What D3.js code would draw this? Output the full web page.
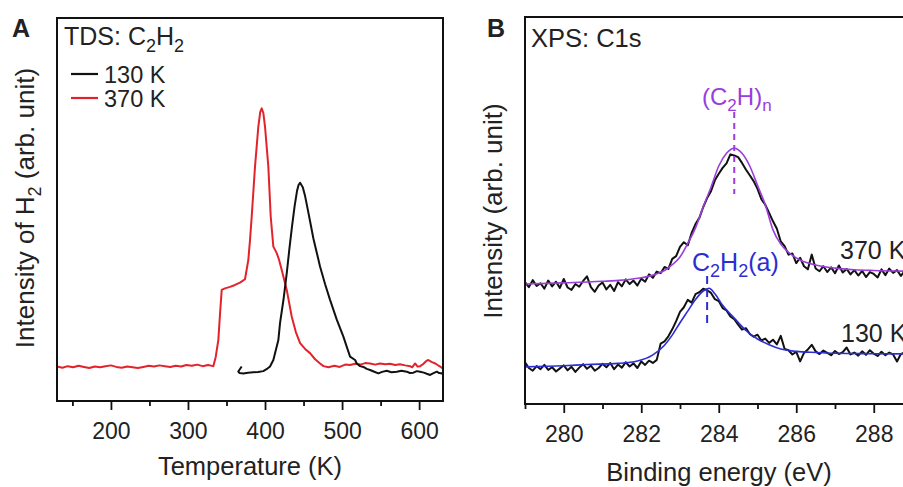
<!DOCTYPE html>
<html>
<head>
<meta charset="utf-8">
<script src="https://cdn.jsdelivr.net/npm/d3@7"></script>
<style>
  body { margin: 0; background: #fff; }
  svg { display: block; }
  text { font-family: "Liberation Sans", Arial, sans-serif; fill: #222; }
</style>
</head>
<body>
<div id="chart"></div>
<script>
/* ---- data ---- */

// panel A: TDS of H2, temperature (K) vs intensity (arb.)
var tdsTicks = [200, 300, 400, 500, 600];
var tdsMinor = [150, 250, 350, 450, 550];

var tds370 = [[130,9.0],[137,8.7],[144,9.1],[151,8.8],[158,9.2],[165,8.9],[172,8.6],[179,9.0],[186,8.8],[193,9.1],
  [200,9.3],[207,8.9],[214,8.7],[221,9.0],[228,8.8],[235,8.6],[242,8.9],[249,9.2],[256,9.0],[263,9.3],[270,9.1],
  [277,8.9],[284,9.2],[291,9.0],[298,9.4],[305,9.2],[312,9.5],[319,9.1],[326,9.4],[332.9,9.1],[336,11.5],
  [339.4,15.9],[341.5,22.5],[343.8,29],[348,29.4],[354.5,29.8],[361,30.3],[367.5,30.9],[374,31.8],[378.3,36.8],
  [380.5,42],[382.7,48.1],[387,61.2],[391.3,71.6],[393.8,75.5],[395.7,76.4],[397.8,75.2],[400,71.6],[404.3,61.2],
  [407.4,48.1],[410.8,40.3],[415.2,38.6],[418,37.0],[421.7,34.2],[428.2,29],[434.7,22],[440,18],[445.5,15.1],
  [452,13.6],[458.4,12.5],[465,10.9],[471.4,9.8],[476,9.1],[482.2,8.8],[490,9.2],[497,8.9],[504,9.5],[510.4,9.4],
  [517,9.7],[524,9.5],[530,9.9],[536.4,9.8],[543,9.5],[549,9.8],[556,9.6],[562.3,9.7],[569,9.4],[575,9.6],
  [582,9.3],[588.3,9.1],[591,8.8],[594.8,9.8],[598,9.0],[601.3,9.1],[605,9.6],[609,10.4],[612,10.7],[616,10.2],
  [620.8,9.8],[624,9.4],[627.3,9.0],[631,8.4]];

var tds130 = [[369.7,9.0],[365.3,7.7],[367,7.3],[371.8,7.2],[378,7.4],[384.8,7.5],[391,7.6],[397.8,7.8],[402,8.3],
  [406.5,9.0],[410.8,10.7],[415.2,14.2],[417.3,15.9],[419.5,20.4],[424,26.5],[428.2,33.4],[431.5,39.5],[435,45.5],
  [438.5,51],[441.5,54.8],[443.5,56.4],[445.5,57.0],[449,55.8],[452,53.5],[455,50.5],[458.4,47],[462.7,42.5],
  [467.1,38.8],[471.4,35.1],[478,30.5],[484.4,26.4],[493,21.3],[501.7,16.8],[506,14.2],[510.4,11.6],[516.9,10.7],
  [519.1,9.8],[523.4,9.1],[527.7,8.9],[532,8.4],[536.4,8.1],[541,7.7],[547.1,7.2],[552,7.6],[558,7.9],[564,7.5],
  [571,7.65],[577,7.9],[584,7.65],[588,7.3],[592.6,7.4],[597,7.8],[601.3,7.65],[606,7.4],[610,7.1],[614.3,6.8],
  [618,7.2],[623,7.65],[626,7.3],[629.5,7.2],[631,7.5]];

// panel B: XPS C1s, binding energy (eV) vs intensity (arb.)
var xpsTicks = [280, 282, 284, 286, 288];
var xpsMinor = [279, 281, 283, 285, 287, 289];
var xpsEnergy = d3.range(99).map(i => +(279 + i * 0.1).toFixed(1)); // 279.0 ... 288.8

var raw370 = [31.5,30.2,32.0,30.5,31.2,29.8,31.9,30.4,31.6,30.0,
  32.3,30.1,29.5,31.0,30.3,31.8,33.0,30.2,29.0,30.6,
  31.4,29.6,30.8,29.2,31.5,30.4,32.2,31.0,31.9,30.6,
  32.4,31.6,33.5,32.6,34.2,33.8,35.4,34.9,37.5,38.2,
  40.6,41.8,41.0,44.2,46.5,48.1,50.9,53.2,55.0,57.8,
  59.5,61.0,62.2,64.5,64.2,63.8,62.3,60.6,59.1,57.6,
  55.6,52.9,51.5,49.4,47.2,45.3,42.0,40.8,38.6,38.9,
  36.4,37.8,35.6,34.8,38.6,35.0,34.3,35.6,34.1,35.3,
  33.8,35.8,34.0,34.9,33.5,34.6,33.2,34.4,32.8,34.1,
  33.6,32.7,34.8,33.3,35.0,33.9,34.6,33.1,34.4];

var raw130 = [10.8,9.3,8.6,9.8,9.0,10.1,8.8,9.5,8.4,9.2,
  10.0,8.7,9.6,8.3,9.4,10.3,9.1,9.9,8.6,9.3,
  10.4,9.5,10.6,9.0,10.2,9.4,10.8,9.7,10.5,9.3,
  11.0,10.1,11.2,10.6,11.4,15.6,16.2,17.5,19.3,21.4,
  23.8,25.0,26.9,26.2,28.4,28.9,29.8,29.4,28.7,27.1,
  26.6,24.8,24.2,22.6,21.9,20.5,19.2,19.6,18.1,17.4,
  17.9,16.4,16.9,15.8,16.6,15.4,17.6,14.2,13.9,12.8,
  13.5,11.0,13.2,14.1,15.3,13.6,12.9,13.8,13.2,12.6,
  13.7,12.9,13.4,14.6,12.8,13.3,12.5,13.6,12.7,13.9,
  13.0,12.4,13.5,12.6,13.3,12.8,11.0,12.9,13.4];

var fit370 = [[279.0,31.0],[280.0,31.3],[281.0,31.7],[281.5,32.0],[282.0,32.6],[282.3,33.3],[282.6,34.5],[282.8,36],
  [283.0,38],[283.2,41.5],[283.4,45.5],[283.6,51],[283.8,56],[284.0,61.5],[284.2,64.8],[284.4,66.1],[284.6,64.8],
  [284.8,61.5],[285.0,56.5],[285.2,51.5],[285.4,45],[285.6,41.3],[285.8,39.2],[286.1,37.2],[286.5,35.9],[287.0,35.1],
  [287.5,34.7],[288.0,34.5],[289.0,34.3],[290.0,34.2]];

var fit130 = [[279.0,9.6],[280.0,9.9],[280.6,10.2],[281.4,10.5],[281.9,11.1],[282.3,12.7],[282.6,15.2],[282.8,17.8],
  [283.0,21],[283.2,24],[283.4,27],[283.6,29.2],[283.75,29.9],[283.9,28.5],[284.1,25.5],[284.4,22.2],[284.7,19],
  [285.0,16.8],[285.3,15.3],[285.6,14.2],[286.0,13.6],[286.5,13.3],[287.0,13.1],[288.0,13.0],[290.0,12.9]];

var peakC2Hn = 284.4;
var peakC2H2 = 283.7;

/* ---- layout ---- */
var W = 903, H = 487;
var RED = "#e3232b", PURPLE = "#9b3ddc", BLUE = "#2b2ed2";

var svg = d3.select("#chart").append("svg").attr("width", W).attr("height", H);
var defs = svg.append("defs");

// text with subscripts: parts = [[str, sub?], ...]
function richText(sel, parts, subSize, shift) {
  var cur = 0;
  parts.forEach(p => {
    var want = p[1] ? shift : 0;
    var t = sel.append("tspan").attr("dy", want - cur).text(p[0]);
    if (p[1]) t.style("font-size", subSize + "px");
    cur = want;
  });
  return sel;
}

function bottomAxis(g, x, y, major, minor) {
  g.append("g")
    .attr("transform", `translate(0,${y})`)
    .call(d3.axisBottom(x).tickValues(minor).tickSize(5).tickFormat(""))
    .call(a => a.select(".domain").remove())
    .selectAll("line").attr("stroke", "#111").attr("stroke-width", 1.8);
  var ax = g.append("g")
    .attr("transform", `translate(0,${y})`)
    .call(d3.axisBottom(x).tickValues(major).tickSize(9).tickPadding(13).tickFormat(d3.format("d")))
    .call(a => a.select(".domain").remove());
  ax.selectAll("line").attr("stroke", "#111").attr("stroke-width", 1.8);
  ax.selectAll("text").style("font-size", "23px").style("font-family", "Liberation Sans, Arial, sans-serif").attr("fill", "#222");
}

/* ---- panel A ---- */
var A = { left: 57, right: 443, top: 18, bottom: 401 };
var xA = d3.scaleLinear().domain([130, 631]).range([A.left, A.right]);
var yA = d3.scaleLinear().domain([0, 100]).range([A.bottom, A.top]);

defs.append("clipPath").attr("id", "clipA").append("rect")
  .attr("x", A.left).attr("y", A.top).attr("width", A.right - A.left).attr("height", A.bottom - A.top);

var gA = svg.append("g");
var lineA = d3.line().x(d => xA(d[0])).y(d => yA(d[1]));

var plotA = gA.append("g").attr("clip-path", "url(#clipA)");
plotA.append("path").datum(tds370).attr("d", lineA)
  .attr("fill", "none").attr("stroke", RED).attr("stroke-width", 2).attr("stroke-linejoin", "round");
plotA.append("path").datum(tds130).attr("d", lineA)
  .attr("fill", "none").attr("stroke", "#111").attr("stroke-width", 2).attr("stroke-linejoin", "round");

gA.append("rect")
  .attr("x", A.left).attr("y", A.top).attr("width", A.right - A.left).attr("height", A.bottom - A.top)
  .attr("fill", "none").attr("stroke", "#111").attr("stroke-width", 2);

bottomAxis(gA, xA, A.bottom, tdsTicks, tdsMinor);

gA.append("text").attr("x", 12).attr("y", 37).style("font-size", "25px").style("font-weight", "bold").text("A");

richText(gA.append("text").attr("x", 64).attr("y", 45).style("font-size", "25px"),
  [["TDS: C"], ["2", 1], ["H"], ["2", 1]], 18, 7);

// legend
var legend = [["130 K", "#111", 74], ["370 K", RED, 98]];
legend.forEach(l => {
  gA.append("line").attr("x1", 71).attr("x2", 98).attr("y1", l[2]).attr("y2", l[2])
    .attr("stroke", l[1]).attr("stroke-width", 2.2);
  gA.append("text").attr("x", 104).attr("y", l[2] + 8.5).style("font-size", "23.5px").text(l[0]);
});

gA.append("text").attr("x", (A.left + A.right) / 2).attr("y", 475)
  .attr("text-anchor", "middle").style("font-size", "25.5px").text("Temperature (K)");

richText(gA.append("text").attr("transform", "translate(34,208) rotate(-90)")
  .attr("text-anchor", "middle").style("font-size", "26px"),
  [["Intensity of H"], ["2", 1], [" (arb. unit)"]], 18, 7);

/* ---- panel B ---- */
var B = { left: 525, top: 17, bottom: 404 };
var xB = d3.scaleLinear().domain([279, 290]).range([B.left, B.left + 11 * 38.75]);
var yB = d3.scaleLinear().domain([0, 100]).range([B.bottom, B.top]);
B.right = xB(290);

defs.append("clipPath").attr("id", "clipB").append("rect")
  .attr("x", B.left).attr("y", B.top).attr("width", B.right - B.left).attr("height", B.bottom - B.top);

var gB = svg.append("g");
var lineB = d3.line().x(d => xB(d[0])).y(d => yB(d[1]));
var fitLine = d3.line().x(d => xB(d[0])).y(d => yB(d[1])).curve(d3.curveMonotoneX);
var plotB = gB.append("g").attr("clip-path", "url(#clipB)");

var spec370 = xpsEnergy.map((e, i) => [e, raw370[i]]);
var spec130 = xpsEnergy.map((e, i) => [e, raw130[i]]);

plotB.append("path").datum(spec370).attr("d", lineB)
  .attr("fill", "none").attr("stroke", "#111").attr("stroke-width", 2).attr("stroke-linejoin", "round");
plotB.append("path").datum(fit370).attr("d", fitLine)
  .attr("fill", "none").attr("stroke", PURPLE).attr("stroke-width", 1.6);
plotB.append("path").datum(spec130).attr("d", lineB)
  .attr("fill", "none").attr("stroke", "#111").attr("stroke-width", 2).attr("stroke-linejoin", "round");
plotB.append("path").datum(fit130).attr("d", fitLine)
  .attr("fill", "none").attr("stroke", BLUE).attr("stroke-width", 1.6);

gB.append("rect")
  .attr("x", B.left).attr("y", B.top).attr("width", B.right - B.left).attr("height", B.bottom - B.top)
  .attr("fill", "none").attr("stroke", "#111").attr("stroke-width", 2);

bottomAxis(gB, xB, B.bottom, xpsTicks, xpsMinor);

// peak markers
gB.append("line").attr("x1", xB(peakC2Hn)).attr("x2", xB(peakC2Hn)).attr("y1", 112).attr("y2", 194)
  .attr("stroke", PURPLE).attr("stroke-width", 2).attr("stroke-dasharray", "6,5");
gB.append("line").attr("x1", xB(peakC2H2)).attr("x2", xB(peakC2H2)).attr("y1", 276).attr("y2", 323)
  .attr("stroke", BLUE).attr("stroke-width", 2).attr("stroke-dasharray", "8,5");

richText(gB.append("text").attr("x", 702).attr("y", 105).style("font-size", "24px").style("fill", PURPLE),
  [["(C"], ["2", 1], ["H)"], ["n", 1]], 17, 6);
richText(gB.append("text").attr("x", 692).attr("y", 271).style("font-size", "25px").style("fill", BLUE),
  [["C"], ["2", 1], ["H"], ["2", 1], ["(a)"]], 18, 6);

gB.append("text").attr("x", 840).attr("y", 259).style("font-size", "25px").text("370 K");
gB.append("text").attr("x", 841).attr("y", 342).style("font-size", "25px").text("130 K");

gB.append("text").attr("x", 487).attr("y", 37).style("font-size", "25px").style("font-weight", "bold").text("B");
gB.append("text").attr("x", 531).attr("y", 47).style("font-size", "25.5px").text("XPS: C1s");

gB.append("text").attr("x", 719).attr("y", 481)
  .attr("text-anchor", "middle").style("font-size", "25.5px").text("Binding energy (eV)");
gB.append("text").attr("transform", "translate(502,211) rotate(-90)")
  .attr("text-anchor", "middle").style("font-size", "26px").text("Intensity (arb. unit)");
</script>
</body>
</html>
